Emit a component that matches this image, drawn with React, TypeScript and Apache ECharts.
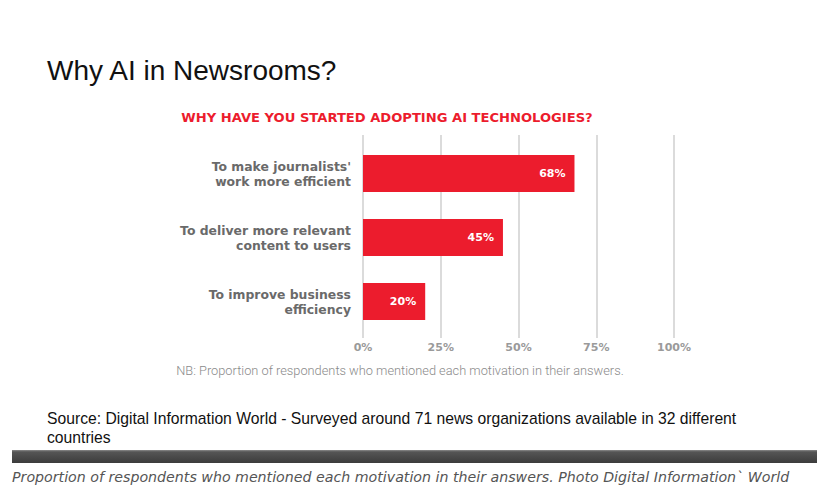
import React, { useEffect, useRef } from "react";
import * as echarts from "echarts";

const categories = [
  "To make journalists'\nwork more efficient",
  "To deliver more relevant\ncontent to users",
  "To improve business\nefficiency",
];
const values = [68, 45, 20];
const tickValues = [0, 25, 50, 75, 100];

const title = "Why AI in Newsrooms?";
const subtitle = "WHY HAVE YOU STARTED ADOPTING AI TECHNOLOGIES?";
const note = "NB: Proportion of respondents who mentioned each motivation in their answers.";
const sourceLine1 =
  "Source: Digital Information World - Surveyed around 71 news organizations available in 32 different";
const sourceLine2 = "countries";
const caption =
  "Proportion of respondents who mentioned each motivation in their answers. Photo Digital Information` World";

export default function App() {
  const ref = useRef<HTMLDivElement>(null);
  useEffect(() => {
    if (!ref.current) return;
    const chart = echarts.init(ref.current, undefined, { renderer: "svg" });
    const RED = "#ec1c2d";
    chart.setOption({
      animation: false,
      backgroundColor: "#ffffff",
      grid: [
        { left: 363, right: 143, top: 135, height: 203 },
        { left: 363, right: 143, top: 141.5, height: 192 },
      ],
      xAxis: [
        {
          type: "value",
          gridIndex: 0,
          min: tickValues[0],
          max: tickValues[tickValues.length - 1],
          interval: 25,
          axisLine: { show: false },
          axisTick: { show: false },
          splitLine: { show: true, lineStyle: { color: "#cfcfcf", width: 1.5 } },
          axisLabel: {
            formatter: "{value}%",
            margin: 4,
            color: "#9a9a9a",
            fontFamily: "DejaVu Sans",
            fontWeight: "bold",
            fontSize: 11,
          },
        },
        {
          type: "value",
          gridIndex: 1,
          min: tickValues[0],
          max: tickValues[tickValues.length - 1],
          show: false,
        },
      ],
      yAxis: [
        { type: "value", gridIndex: 0, show: false },
        {
          type: "category",
          gridIndex: 1,
          inverse: true,
          data: categories,
          axisLine: { show: false },
          axisTick: { show: false },
          splitLine: { show: false },
          axisLabel: {
            margin: 12,
            color: "#6a6a6a",
            fontFamily: "DejaVu Sans",
            fontWeight: "bold",
            fontSize: 12.4,
            lineHeight: 15,
            align: "right",
          },
        },
      ],
      series: [
        {
          type: "bar",
          xAxisIndex: 1,
          yAxisIndex: 1,
          data: values,
          barWidth: 37,
          itemStyle: { color: RED },
          label: {
            show: true,
            position: "insideRight",
            distance: 9,
            formatter: "{c}%",
            color: "#ffffff",
            fontFamily: "DejaVu Sans",
            fontWeight: "bold",
            fontSize: 11,
          },
        },
      ],
      graphic: [
        {
          type: "text",
          left: 47,
          top: 56,
          style: {
            text: title,
            fontFamily: "Liberation Sans",
            fontSize: 28,
            fill: "#111111",
          },
        },
        {
          type: "text",
          x: 387,
          y: 117,
          style: {
            text: subtitle,
            fontFamily: "DejaVu Sans",
            fontWeight: "bold",
            fontSize: 13.1,
            fill: RED,
            align: "center",
            verticalAlign: "middle",
          },
        },
        {
          type: "text",
          x: 400,
          y: 370,
          style: {
            text: note,
            fontFamily: "Roboto",
            fontWeight: 300,
            fontSize: 12.8,
            fill: "#8a8a8a",
            align: "center",
            verticalAlign: "middle",
          },
        },
        {
          type: "text",
          x: 47,
          y: 418,
          style: {
            text: sourceLine1,
            fontFamily: "Liberation Sans",
            fontSize: 15.7,
            fill: "#111111",
            verticalAlign: "middle",
          },
        },
        {
          type: "text",
          x: 47,
          y: 437,
          style: {
            text: sourceLine2,
            fontFamily: "Liberation Sans",
            fontSize: 15.7,
            fill: "#111111",
            verticalAlign: "middle",
          },
        },
        {
          type: "rect",
          shape: { x: 12, y: 450, width: 805, height: 13 },
          style: {
            fill: new echarts.graphic.LinearGradient(0, 0, 0, 1, [
              { offset: 0, color: "#8a8a8a" },
              { offset: 0.15, color: "#555555" },
              { offset: 1, color: "#3c3c3c" },
            ]),
          },
        },
        {
          type: "text",
          x: 12,
          y: 477,
          style: {
            text: caption,
            fontFamily: "DejaVu Sans",
            fontStyle: "italic",
            fontSize: 14.2,
            fill: "#555555",
            verticalAlign: "middle",
          },
        },
      ],
    });
    return () => chart.dispose();
  }, []);
  return (
    <div
      ref={ref}
      style={{ position: "fixed", left: 0, top: 0, width: 817, height: 488 }}
    />
  );
}
